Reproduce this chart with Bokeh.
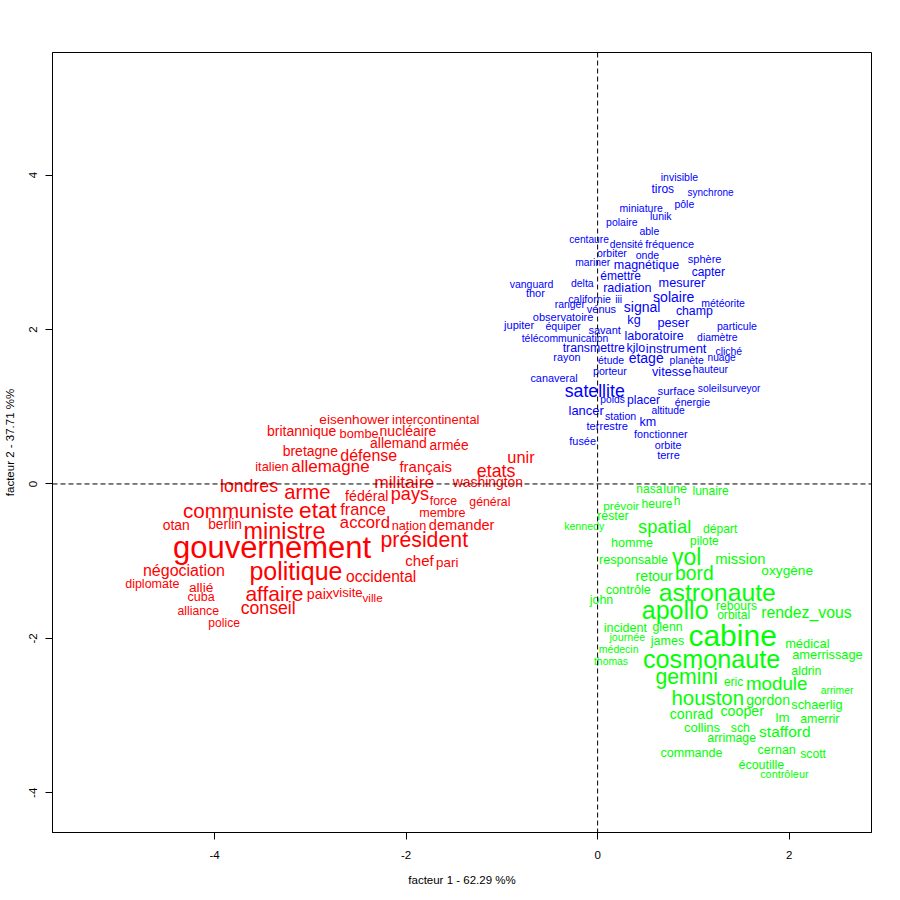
from bokeh.plotting import figure
from bokeh.models import ColumnDataSource, Range1d, FixedTicker, Span
from bokeh.core.properties import value
from bokeh.embed import file_html
from bokeh.resources import INLINE

# ---------------- blue group (space science) ----------------
blue_words = ["invisible", "tiros", "synchrone", "pôle", "miniature", "lunik", "polaire", "able",
              "centaure", "densité", "fréquence", "orbiter", "onde", "sphère", "mariner", "magnétique",
              "capter", "émettre", "vanguard", "delta", "mesurer", "radiation", "thor", "californie",
              "iii", "solaire", "météorite", "ranger", "vénus", "signal", "champ", "observatoire",
              "kg", "peser", "jupiter", "équiper", "particule", "savant", "laboratoire",
              "télécommunication", "diamètre", "transmettre", "kilo", "instrument", "cliché", "rayon",
              "étage", "étude", "planète", "nuage", "porteur", "vitesse", "hauteur", "canaveral",
              "satellite", "surface", "soleil", "surveyor", "poids", "placer", "énergie", "lancer",
              "altitude", "station", "km", "terrestre", "fonctionner", "fusée", "orbite", "terre"]
blue_x = [0.854, 0.68, 1.18, 0.906, 0.455, 0.66, 0.253, 0.54,
          -0.09, 0.30, 0.753, 0.149, 0.52, 1.118, -0.052, 0.51,
          1.156, 0.24, -0.69, -0.16, 0.88, 0.31, -0.65, -0.083,
          0.22, 0.795, 1.31, -0.29, 0.04, 0.465, 1.01, -0.36,
          0.38, 0.79, -0.82, -0.36, 1.455, 0.073, 0.59,
          -0.34, 1.25, -0.04, 0.40, 0.82, 1.37, -0.32,
          0.507, 0.14, 0.93, 1.295, 0.128, 0.774, 1.177, -0.455,
          -0.03, 0.82, 1.17, 1.50, 0.156, 0.48, 0.99, -0.12,
          0.736, 0.24, 0.524, 0.10, 0.66, -0.156, 0.736, 0.74]
blue_y = [3.98, 3.82, 3.77, 3.63, 3.58, 3.47, 3.39, 3.27,
          3.16, 3.10, 3.11, 2.99, 2.97, 2.91, 2.87, 2.83,
          2.74, 2.69, 2.59, 2.60, 2.60, 2.54, 2.47, 2.40,
          2.40, 2.42, 2.35, 2.33, 2.27, 2.29, 2.24, 2.16,
          2.12, 2.09, 2.06, 2.05, 2.04, 1.99, 1.92,
          1.88, 1.90, 1.76, 1.76, 1.76, 1.72, 1.65,
          1.63, 1.60, 1.60, 1.64, 1.46, 1.45, 1.48, 1.37,
          1.20, 1.21, 1.23, 1.23, 1.09, 1.09, 1.06, 0.95,
          0.945, 0.88, 0.80, 0.75, 0.65, 0.557, 0.51, 0.38]
blue_w = [10.5, 12, 10, 10.5, 10.5, 10.5, 10.5, 10.5,
          10.2, 10.3, 11, 10.5, 10.5, 11, 10.3, 12.5,
          12, 12, 10.5, 10.5, 12.7, 12.6, 11, 10.7,
          10.5, 14, 10.5, 10.4, 11, 14, 12.3, 11,
          12.6, 12.7, 11, 10.6, 10.6, 11, 12.5,
          10.4, 10.4, 12.3, 12.5, 13, 10.4, 10.9,
          14, 10.4, 10.4, 10.2, 10.7, 12.7, 10.4, 10.9,
          17.7, 11.4, 10.4, 10, 10.3, 12.2, 10.6, 12.9,
          10.3, 10.6, 12.5, 11.1, 10.8, 10.9, 10.7, 11]

# ---------------- red group (politics) ----------------
red_words = ["eisenhower", "intercontinental", "britannique", "bombe", "nucléaire", "allemand",
             "armée", "bretagne", "défense", "unir", "italien", "allemagne", "français", "etats",
             "londres", "militaire", "washington", "arme", "fédéral", "pays", "force", "général",
             "communiste", "etat", "france", "membre", "otan", "berlin", "ministre", "accord",
             "nation", "demander", "gouvernement", "président", "chef", "pari", "négociation",
             "politique", "occidental", "diplomate", "allié", "cuba", "affaire", "paix", "visite",
             "ville", "alliance", "conseil", "police"]
red_x = [-2.54, -1.69, -3.09, -2.49, -1.98, -2.08,
         -1.55, -3.00, -2.39, -0.80, -3.40, -2.79, -1.795, -1.06,
         -3.64, -2.02, -1.146, -3.03, -2.41, -1.96, -1.61, -1.125,
         -3.75, -2.92, -2.45, -1.62, -4.40, -3.89, -3.27, -2.43,
         -1.97, -1.42, -3.40, -1.81, -1.86, -1.57, -4.32,
         -3.15, -2.26, -4.65, -4.14, -4.14, -3.375, -2.90, -2.61,
         -2.35, -4.17, -3.44, -3.90]
red_y = [0.84, 0.84, 0.68, 0.66, 0.68, 0.53,
         0.50, 0.43, 0.37, 0.35, 0.22, 0.22, 0.23, 0.17,
         -0.03, 0.02, 0.02, -0.11, -0.15, -0.13, -0.22, -0.23,
         -0.34, -0.34, -0.32, -0.37, -0.53, -0.53, -0.61, -0.50,
         -0.54, -0.53, -0.82, -0.72, -0.99, -1.02, -1.12,
         -1.13, -1.20, -1.29, -1.34, -1.47, -1.42, -1.43, -1.41,
         -1.48, -1.64, -1.61, -1.80]
red_w = [13.7, 12.9, 14, 12.8, 14, 14,
         13.8, 14, 16, 16.4, 12.8, 17, 15, 17.8,
         17.7, 17.4, 13.9, 20.3, 14.2, 18.1, 12.3, 12.3,
         20.6, 22.6, 16.4, 12.6, 13.9, 13.8, 23.4, 16.7,
         12.7, 14.6, 31, 21.3, 15, 13.4, 16,
         25, 15.6, 12.5, 13.7, 12.5, 21, 14.2, 13.2,
         11.8, 12.3, 17.7, 12.1]

# ---------------- green group (manned flight) ----------------
green_words = ["nasa", "lune", "lunaire", "prévoir", "heure", "h", "rester", "kennedy", "spatial",
               "départ", "homme", "pilote", "responsable", "vol", "mission", "oxygène", "retour",
               "bord", "contrôle", "astronaute", "john", "apollo", "rebours", "orbital",
               "rendez_vous", "incident", "glenn", "journée", "cabine", "james", "médical",
               "médecin", "cosmonaute", "amerrissage", "thomas", "aldrin", "gemini", "eric",
               "module", "arrimer", "houston", "gordon", "schaerlig", "conrad", "cooper", "lm",
               "amerrir", "collins", "sch", "stafford", "arrimage", "commande", "cernan", "scott",
               "écoutille", "contrôleur"]
green_x = [0.54, 0.81, 1.18, 0.247, 0.62, 0.83, 0.16, -0.14, 0.70,
           1.28, 0.36, 1.115, 0.375, 0.93, 1.49, 1.98, 0.59,
           1.01, 0.32, 1.25, 0.04, 0.81, 1.45, 1.42,
           2.18, 0.29, 0.73, 0.31, 1.41, 0.73, 2.19,
           0.22, 1.19, 2.40, 0.14, 2.18, 0.93, 1.42,
           1.87, 2.50, 1.15, 1.78, 2.29, 0.98, 1.51, 1.93,
           2.32, 1.09, 1.49, 1.955, 1.40, 0.98, 1.87, 2.25,
           1.71, 1.95]
green_y = [-0.06, -0.07, -0.09, -0.28, -0.26, -0.22, -0.41, -0.55, -0.55,
           -0.58, -0.77, -0.74, -0.99, -0.95, -0.97, -1.12, -1.19,
           -1.16, -1.37, -1.41, -1.50, -1.63, -1.58, -1.70,
           -1.67, -1.86, -1.85, -1.98, -1.96, -2.03, -2.07,
           -2.14, -2.27, -2.21, -2.30, -2.42, -2.50, -2.57,
           -2.59, -2.67, -2.77, -2.80, -2.85, -2.98, -2.94, -3.02,
           -3.05, -3.15, -3.16, -3.21, -3.29, -3.48, -3.44, -3.50,
           -3.64, -3.76]
green_w = [12, 12.5, 12.1, 11.8, 12.1, 12, 12.3, 10.6, 18.4,
           12.1, 12.6, 12, 12.7, 23, 14.8, 13.7, 14.3,
           19.3, 12.7, 24.8, 12.3, 25, 12.1, 12.1,
           15.8, 12.5, 12.3, 10.7, 30, 12.5, 12.9,
           10.5, 25.2, 12.8, 10.4, 12.3, 21.2, 12,
           18.8, 10.3, 20.4, 14.1, 12.8, 14.2, 14.2, 13.3,
           12.4, 13, 12.2, 15.5, 12.4, 12.5, 12.5, 12.2,
           12.5, 10.9]

x_ticks = [-4, -2, 0, 2]
y_ticks = [-4, -2, 0, 2, 4]
x_title = "facteur 1 - 62.29 %%"
y_title = "facteur 2 - 37.71 %%"

FONT = "Liberation Sans"

p = figure(frame_width=819, frame_height=780,
           x_range=Range1d(-5.692, 2.860), y_range=Range1d(-4.514, 5.588),
           output_backend="svg", toolbar_location=None,
           min_border_left=52, min_border_right=14, min_border_top=52, min_border_bottom=56)
p.grid.visible = False
p.outline_line_color = "black"
p.outline_line_alpha = 1.0
p.outline_line_width = 1
p.background_fill_color = "white"
p.border_fill_color = "white"

for ax, ticks, title in ((p.xaxis[0], x_ticks, x_title), (p.yaxis[0], y_ticks, y_title)):
    ax.ticker = FixedTicker(ticks=ticks)
    ax.major_label_overrides = {t: str(t) for t in ticks}
    ax.minor_tick_line_color = None
    ax.major_tick_out = 7
    ax.major_tick_in = 0
    ax.major_tick_line_color = "black"
    ax.axis_line_color = "black"
    ax.major_label_text_font = FONT
    ax.major_label_text_font_size = "11.5px"
    ax.major_label_text_color = "black"
    ax.axis_label = title
    ax.axis_label_text_font = FONT
    ax.axis_label_text_font_size = "11.5px"
    ax.axis_label_text_font_style = "normal"
    ax.axis_label_text_color = "black"

p.xaxis.major_label_standoff = 11
p.xaxis.axis_label_standoff = 12
p.yaxis.major_label_standoff = 8
p.yaxis.axis_label_standoff = 11
p.yaxis.major_label_orientation = "vertical"

for words, xs, ys, ws, col in ((red_words, red_x, red_y, red_w, "#FF0000"),
                               (blue_words, blue_x, blue_y, blue_w, "#0000FF"),
                               (green_words, green_x, green_y, green_w, "#00FF00")):
    src = ColumnDataSource(dict(x=xs, y=ys, t=words, fs=[f"{w}px" for w in ws]))
    p.text(x="x", y="y", text="t", source=src, text_font=value(FONT),
           text_font_size={"field": "fs"}, text_color=col,
           text_align="center", text_baseline="middle")

p.add_layout(Span(location=0, dimension="height", line_color="black", line_dash="5 3", line_width=1))
p.add_layout(Span(location=0, dimension="width", line_color="black", line_dash="5 3", line_width=1))

open("out.html", "w").write(file_html(p, INLINE))
